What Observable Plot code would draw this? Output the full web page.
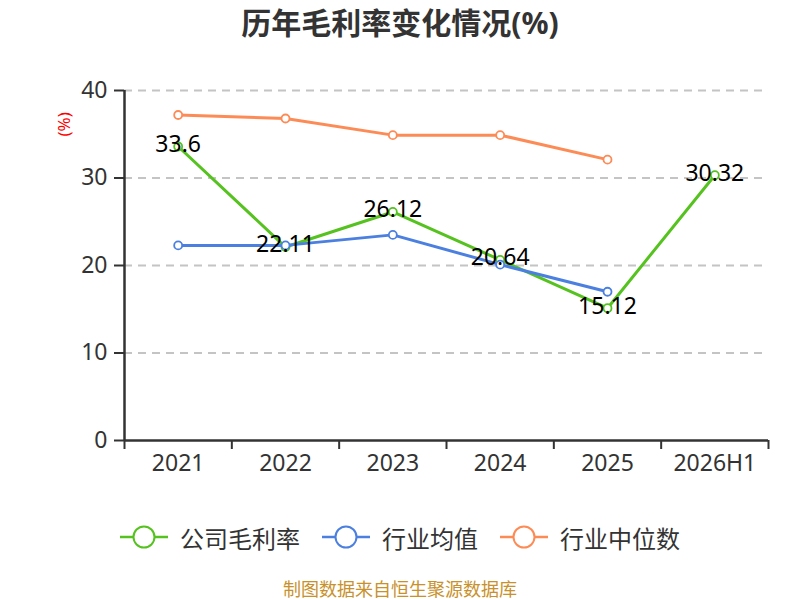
<!DOCTYPE html>
<html>
<head>
<meta charset="utf-8">
<script src="https://cdn.jsdelivr.net/npm/d3@7"></script>
<script src="https://cdn.jsdelivr.net/npm/@observablehq/plot@0.6"></script>
<style>
  html, body { margin: 0; padding: 0; background: #fff; }
  body { width: 800px; height: 600px; position: relative; overflow: hidden;
         font-family: "Noto Sans", "Noto Sans CJK SC", sans-serif; }
  #title { position: absolute; top: 0; left: 0; width: 800px; height: 46px; line-height: 46px;
           text-align: center; font-size: 30px; font-weight: bold; color: #333; }
  #chart { position: absolute; top: 50px; left: 0; }
  #legend { position: absolute; top: 517px; left: 0; width: 800px; height: 40px;
            display: flex; justify-content: center; align-items: center; }
  .item { display: flex; align-items: center; margin: 0 11px; font-size: 24px; color: #333; }
  .item svg { margin-right: 12px; }
  #caption { position: absolute; top: 578px; left: 0; width: 800px; line-height: 22px;
             text-align: center; font-size: 18px; color: #c8912b; }
</style>
</head>
<body>
<div id="title">历年毛利率变化情况(%)</div>
<div id="chart"></div>
<div id="legend"></div>
<div id="caption">制图数据来自恒生聚源数据库</div>
<script>
const categories = ["2021", "2022", "2023", "2024", "2025", "2026H1"];
const companyMargin = [33.6, 22.11, 26.12, 20.64, 15.12, 30.32];
const industryMean = [22.3, 22.3, 23.5, 20.1, 17.0, null];
const industryMedian = [37.2, 36.8, 34.9, 34.9, 32.1, null];
const seriesNames = ["公司毛利率", "行业均值", "行业中位数"];
const seriesColors = ["#56c21f", "#4b80e0", "#fd8b56"];
const yTicks = [0, 10, 20, 30, 40];

const rows = categories.map((c, i) => ({
  i, cat: c,
  company: companyMargin[i],
  mean: industryMean[i],
  median: industryMedian[i]
}));
const boundaries = d3.range(categories.length + 1).map(k => k - 0.5);
const centers = d3.range(categories.length);

const fontFamily = '"Noto Sans", "Noto Sans CJK SC", sans-serif';

function series(key, color) {
  const data = rows.filter(d => d[key] != null);
  return [
    Plot.line(data, {x: "i", y: key, stroke: color, strokeWidth: 3}),
    Plot.dot(data, {x: "i", y: key, r: 4, fill: "white", stroke: color, strokeWidth: 1.8})
  ];
}

const plot = Plot.plot({
  width: 800,
  height: 440,
  marginTop: 40,
  marginBottom: 50,
  marginLeft: 124,
  marginRight: 32,
  style: {fontFamily, fontSize: "23px", color: "#333", background: "white", overflow: "visible"},
  x: {type: "linear", domain: [-0.5, categories.length - 0.5]},
  y: {domain: [0, 40]},
  marks: [
    Plot.gridY(yTicks.filter(t => t > 0), {stroke: "#c4c4c4", strokeOpacity: 1, strokeDasharray: "8,6", strokeWidth: 1.8}),
    Plot.axisY({ticks: yTicks, tickSize: 10, tickPadding: 7, label: null, fontSize: 23, stroke: "#333", strokeWidth: 2, fill: "#333"}),
    Plot.axisX({ticks: boundaries, tickSize: 9, tickFormat: () => "", label: null, stroke: "#333", strokeWidth: 2}),
    Plot.axisX({ticks: centers, tickSize: 0, tickPadding: 14, tickFormat: i => categories[i], label: null, fontSize: 23, fill: "#333"}),
    Plot.ruleX([-0.5], {stroke: "#333", strokeWidth: 2.5}),
    Plot.ruleY([0], {stroke: "#333", strokeWidth: 2.5}),
    ...series("company", seriesColors[0]),
    ...series("mean", seriesColors[1]),
    ...series("median", seriesColors[2]),
    Plot.text(rows, {x: "i", y: "company", text: d => String(d.company), fill: "black", fontSize: 23, dy: -2}),
    Plot.text(["(%)"], {frameAnchor: "top-left", dx: -67, dy: 46, rotate: -90, fill: "red", fontSize: 17})
  ]
});
document.getElementById("chart").appendChild(plot);

const legend = document.getElementById("legend");
seriesNames.forEach((name, k) => {
  const item = document.createElement("div");
  item.className = "item";
  item.innerHTML = `<svg width="48" height="26" viewBox="0 0 48 26">
    <line x1="0" y1="13" x2="48" y2="13" stroke="${seriesColors[k]}" stroke-width="2.5"/>
    <circle cx="24" cy="13" r="10.5" fill="white" stroke="${seriesColors[k]}" stroke-width="2"/>
  </svg><span>${name}</span>`;
  legend.appendChild(item);
});
</script>
</body>
</html>
